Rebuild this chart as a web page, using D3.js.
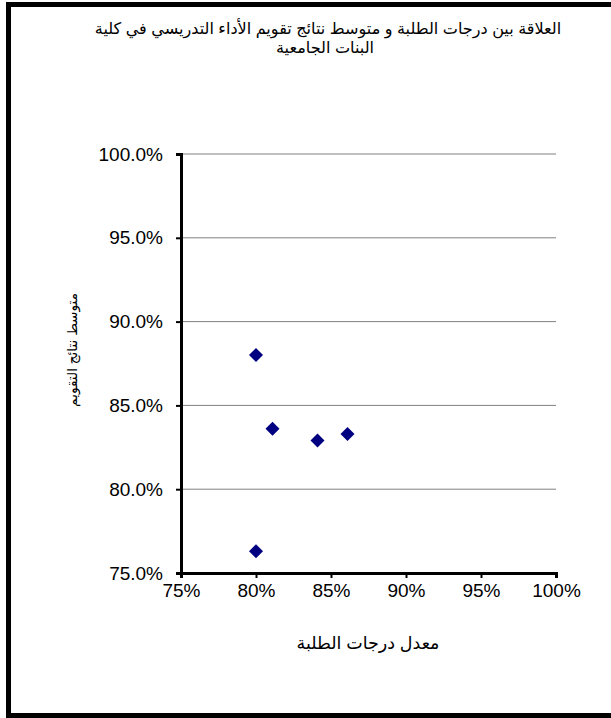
<!DOCTYPE html>
<html><head><meta charset="utf-8">
<script src="https://cdn.jsdelivr.net/npm/d3@7"></script>
<style>
html,body{margin:0;padding:0;background:#fff;}
svg{display:block;}
text{font-family:Arial,"Liberation Sans","DejaVu Sans",sans-serif;fill:#000;}
</style></head>
<body>
<script>
const titleLines = ["العلاقة بين درجات الطلبة و متوسط نتائج تقويم الأداء التدريسي في كلية", "البنات الجامعية"];
const xTitle = "معدل درجات الطلبة";
const yTitle = "متوسط نتائج التقويم";
const xValues = [0.80, 0.811, 0.841, 0.861, 0.80];
const yValues = [0.880, 0.836, 0.829, 0.833, 0.763];
const xTicks = [0.75, 0.80, 0.85, 0.90, 0.95, 1.00];
const yTicks = [0.75, 0.80, 0.85, 0.90, 0.95, 1.00];

(function () {
const W = 611, H = 718;
const svg = d3.select("body").append("svg").attr("width", W).attr("height", H);

// fit a text element's font size so its rendered length matches a target width
function fit(sel, target) {
  sel.attr("font-size", 100);
  const w = sel.node().getComputedTextLength();
  sel.attr("font-size", 100 * target / w);
}

// outer border
svg.append("rect").attr("x", 8.5).attr("y", 4.5).attr("width", W + 20).attr("height", 711)
  .attr("fill", "#fff").attr("stroke", "#000").attr("stroke-width", 5);

const pL = 181, pR = 556, pT = 154, pB = 573;
const x = d3.scaleLinear().domain([0.75, 1.0]).range([pL, pR]);
const y = d3.scaleLinear().domain([0.75, 1.0]).range([pB, pT]);

// title
const t1 = svg.append("text").attr("x", 328).attr("y", 34).attr("text-anchor", "middle")
  .attr("direction", "rtl").text(titleLines[0]);
fit(t1, 467);
const fs = +t1.attr("font-size");
svg.append("text").attr("x", 325).attr("y", 53).attr("text-anchor", "middle")
  .attr("direction", "rtl").attr("font-size", fs).text(titleLines[1]);

// gridlines
svg.append("g").selectAll("line").data(yTicks.filter(d => d > 0.75)).join("line")
  .attr("x1", pL).attr("x2", pR).attr("y1", d => y(d)).attr("y2", d => y(d))
  .attr("stroke", "#808080").attr("stroke-width", 1);

// y axis
const yAxis = svg.append("g").attr("transform", `translate(${pL},0)`)
  .call(d3.axisLeft(y).tickValues(yTicks).tickFormat(d3.format(".1%")).tickSizeOuter(0).tickSize(5).tickPadding(13));
yAxis.select(".domain").attr("stroke-width", 3);
yAxis.selectAll(".tick line").attr("stroke-width", 2);
yAxis.selectAll("text").attr("font-size", 19).attr("font-family", 'Arial,"Liberation Sans",sans-serif');

// x axis
const xAxis = svg.append("g").attr("transform", `translate(0,${pB})`)
  .call(d3.axisBottom(x).tickValues(xTicks).tickFormat(d3.format(".0%")).tickSizeOuter(0).tickSize(5).tickPadding(6));
xAxis.select(".domain").attr("stroke-width", 3);
xAxis.selectAll(".tick line").attr("stroke-width", 2);
xAxis.selectAll("text").attr("font-size", 19).attr("font-family", 'Arial,"Liberation Sans",sans-serif');

// points
const sym = d3.symbol().type(d3.symbolSquare).size(98);
svg.append("g").selectAll("path").data(xValues.map((v, i) => [v, yValues[i]])).join("path")
  .attr("d", sym)
  .attr("transform", d => `translate(${x(d[0])},${y(d[1])}) rotate(45)`)
  .attr("fill", "#000080");

// axis titles
const xt = svg.append("text").attr("x", 368).attr("y", 649).attr("text-anchor", "middle")
  .attr("direction", "rtl").text(xTitle);
fit(xt, 143);
const yt = svg.append("text").attr("transform", "translate(77,350) rotate(-90)").attr("text-anchor", "middle")
  .attr("direction", "rtl").text(yTitle);
fit(yt, 114);
})();
</script>
</body></html>
